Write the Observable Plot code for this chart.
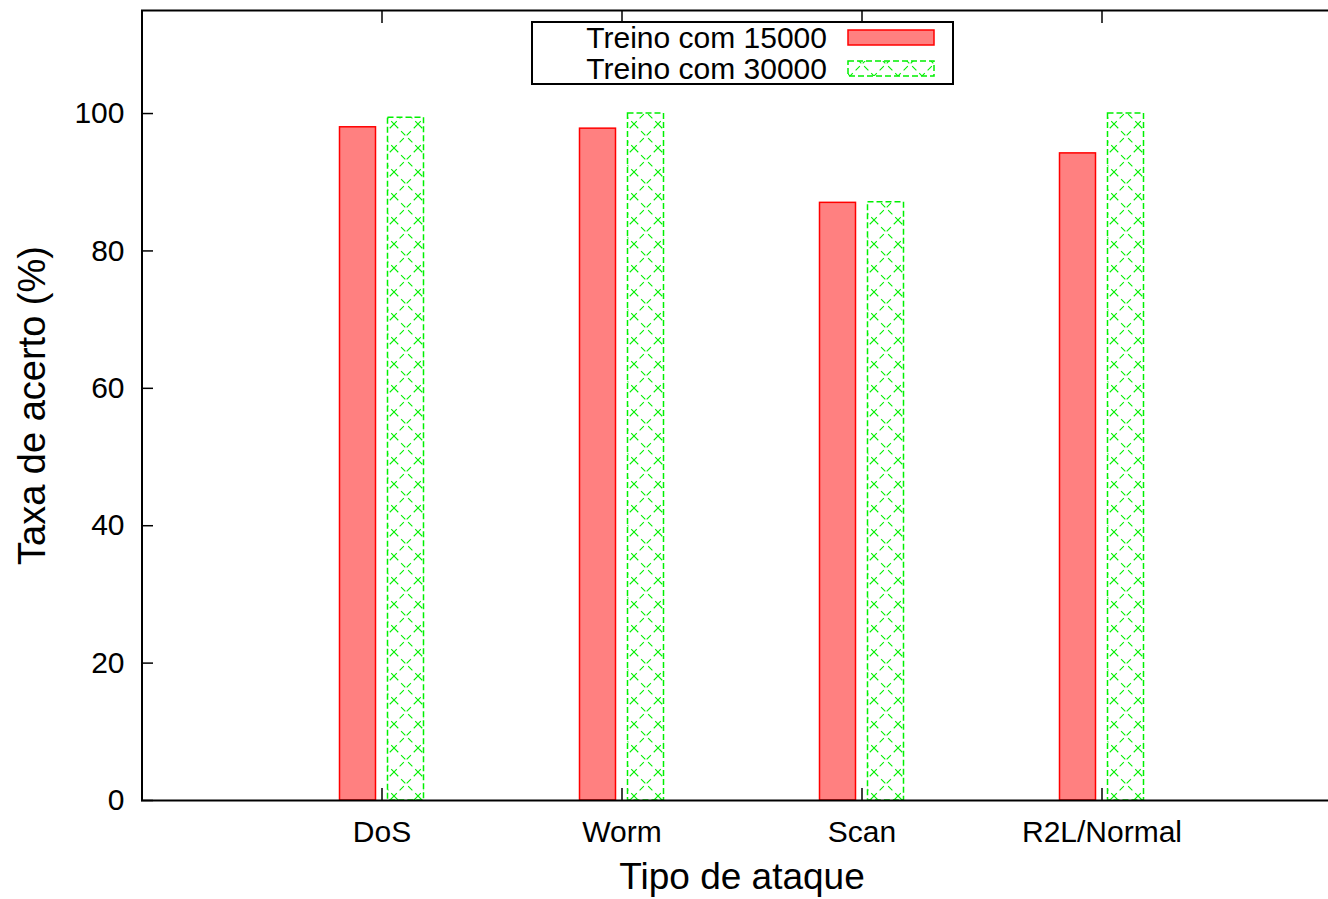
<!DOCTYPE html>
<html>
<head>
<meta charset="utf-8">
<script src="https://cdn.jsdelivr.net/npm/d3@7"></script>
<script src="https://cdn.jsdelivr.net/npm/@observablehq/plot@0.6"></script>
<style>
  html, body { margin: 0; padding: 0; background: #fff; }
  #wrap { position: relative; width: 1328px; height: 899px; overflow: hidden; }
  #wrap svg { display: block; }
</style>
</head>
<body>
<div id="wrap"></div>
<script>
// ---- data ----
const categories = ["DoS", "Worm", "Scan", "R2L/Normal"];
const seriesNames = ["Treino com 15000", "Treino com 30000"];
const values15000 = [98.0, 97.8, 87.0, 94.2];
const values30000 = [99.4, 100.0, 87.1, 100.0];
const yTicks = [0, 20, 40, 60, 80, 100];
const xLabel = "Tipo de ataque";
const yLabel = "Taxa de acerto (%)";

const bars = categories.flatMap((c, i) => [
  { cat: c, i, s: 0, v: values15000[i] },
  { cat: c, i, s: 1, v: values30000[i] }
]);
const red = bars.filter(d => d.s === 0);
const green = bars.filter(d => d.s === 1);
const idx = categories.map((c, i) => i);

const FONT = "'Liberation Sans', Arial, Helvetica, sans-serif";
const half = 0.075, off = 0.1;
const GREEN = "#00f000";

const svg = Plot.plot({
  width: 1328,
  height: 899,
  marginLeft: 141,
  marginTop: 10,
  marginBottom: 99,
  marginRight: 0,
  style: { fontFamily: FONT, background: "#fff", color: "#000", overflow: "hidden" },
  x: { type: "linear", domain: [-1, 4], range: [141.5, 1341.5], axis: null },
  y: { domain: [0, 115], range: [800, 10], axis: null },
  marks: [
    // bars
    Plot.rectY(red, {
      x1: d => d.i - off - half, x2: d => d.i - off + half, y1: 0, y2: "v",
      fill: "#ff8080", stroke: "#ff0000", strokeWidth: 1.5
    }),
    Plot.rectY(green, {
      x1: d => d.i + off - half, x2: d => d.i + off + half, y1: 0, y2: "v",
      fill: "url(#xhatch)", stroke: GREEN, strokeWidth: 1.5, strokeDasharray: "6,3"
    }),
    // frame (left, top, bottom)
    Plot.ruleX([-1], { stroke: "#000", strokeWidth: 2 }),
    Plot.ruleY([115], { stroke: "#000", strokeWidth: 2 }),
    Plot.ruleY([0], { stroke: "#000", strokeWidth: 2 }),
    // inward ticks
    Plot.axisY({ ticks: yTicks, tickSize: 12, dx: 12, tickFormat: () => "", strokeWidth: 1.5, label: null }),
    Plot.axisX({ ticks: idx, tickSize: 12, dy: -12, tickFormat: () => "", strokeWidth: 1.5, label: null }),
    Plot.axisX({ ticks: idx, anchor: "top", tickSize: 12, dy: 12, tickFormat: () => "", strokeWidth: 1.5, label: null }),
    // tick labels
    Plot.axisY({ ticks: yTicks, tickSize: 0, tickPadding: 17, fontSize: 30, label: null }),
    Plot.axisX({ ticks: idx, tickSize: 0, tickPadding: 20, fontSize: 30, tickFormat: i => categories[i], label: null }),
    // axis titles
    Plot.text([xLabel], { x: 1.5, frameAnchor: "bottom", dy: 77, fontSize: 37, text: d => d, fill: "#000",
      textAnchor: "middle", lineAnchor: "middle" }),
    Plot.text([yLabel], { y: 57.5, frameAnchor: "left", dx: -109, rotate: -90, fontSize: 38, text: d => d, fill: "#000",
      textAnchor: "middle", lineAnchor: "middle" })
  ]
});

// hatch pattern
const defs = d3.select(svg).insert("defs", ":first-child");
const T = 24;
const pat = defs.append("pattern")
  .attr("id", "xhatch")
  .attr("patternUnits", "userSpaceOnUse")
  .attr("width", T).attr("height", T)
  .attr("x", 394).attr("y", 4);
pat.append("rect").attr("width", T).attr("height", T).attr("fill", "#fff");
pat.append("path")
  .attr("d", `M0,0L${T},${T}M${T},0L0,${T}`)
  .attr("stroke", GREEN).attr("stroke-width", 1.1)
  .attr("stroke-dasharray", "6,4").attr("fill", "none");

// legend
const lg = d3.select(svg).append("g").attr("font-family", FONT);
lg.append("rect").attr("x", 532).attr("y", 22).attr("width", 421).attr("height", 62)
  .attr("fill", "#fff").attr("stroke", "#000").attr("stroke-width", 2);
const swatchFill = ["#ff8080", "url(#xhatch)"];
const swatchStroke = ["#ff0000", GREEN];
const swatchDash = [null, "6,3"];
seriesNames.forEach((name, k) => {
  lg.append("text").attr("x", 827).attr("y", 47.5 + k * 31)
    .attr("text-anchor", "end").attr("font-size", 30).attr("fill", "#000").text(name);
  lg.append("rect").attr("x", 848).attr("y", 30 + k * 31).attr("width", 86).attr("height", 15)
    .attr("fill", swatchFill[k]).attr("stroke", swatchStroke[k]).attr("stroke-width", 1.5)
    .attr("stroke-dasharray", swatchDash[k]);
});

document.getElementById("wrap").appendChild(svg);
</script>
</body>
</html>
